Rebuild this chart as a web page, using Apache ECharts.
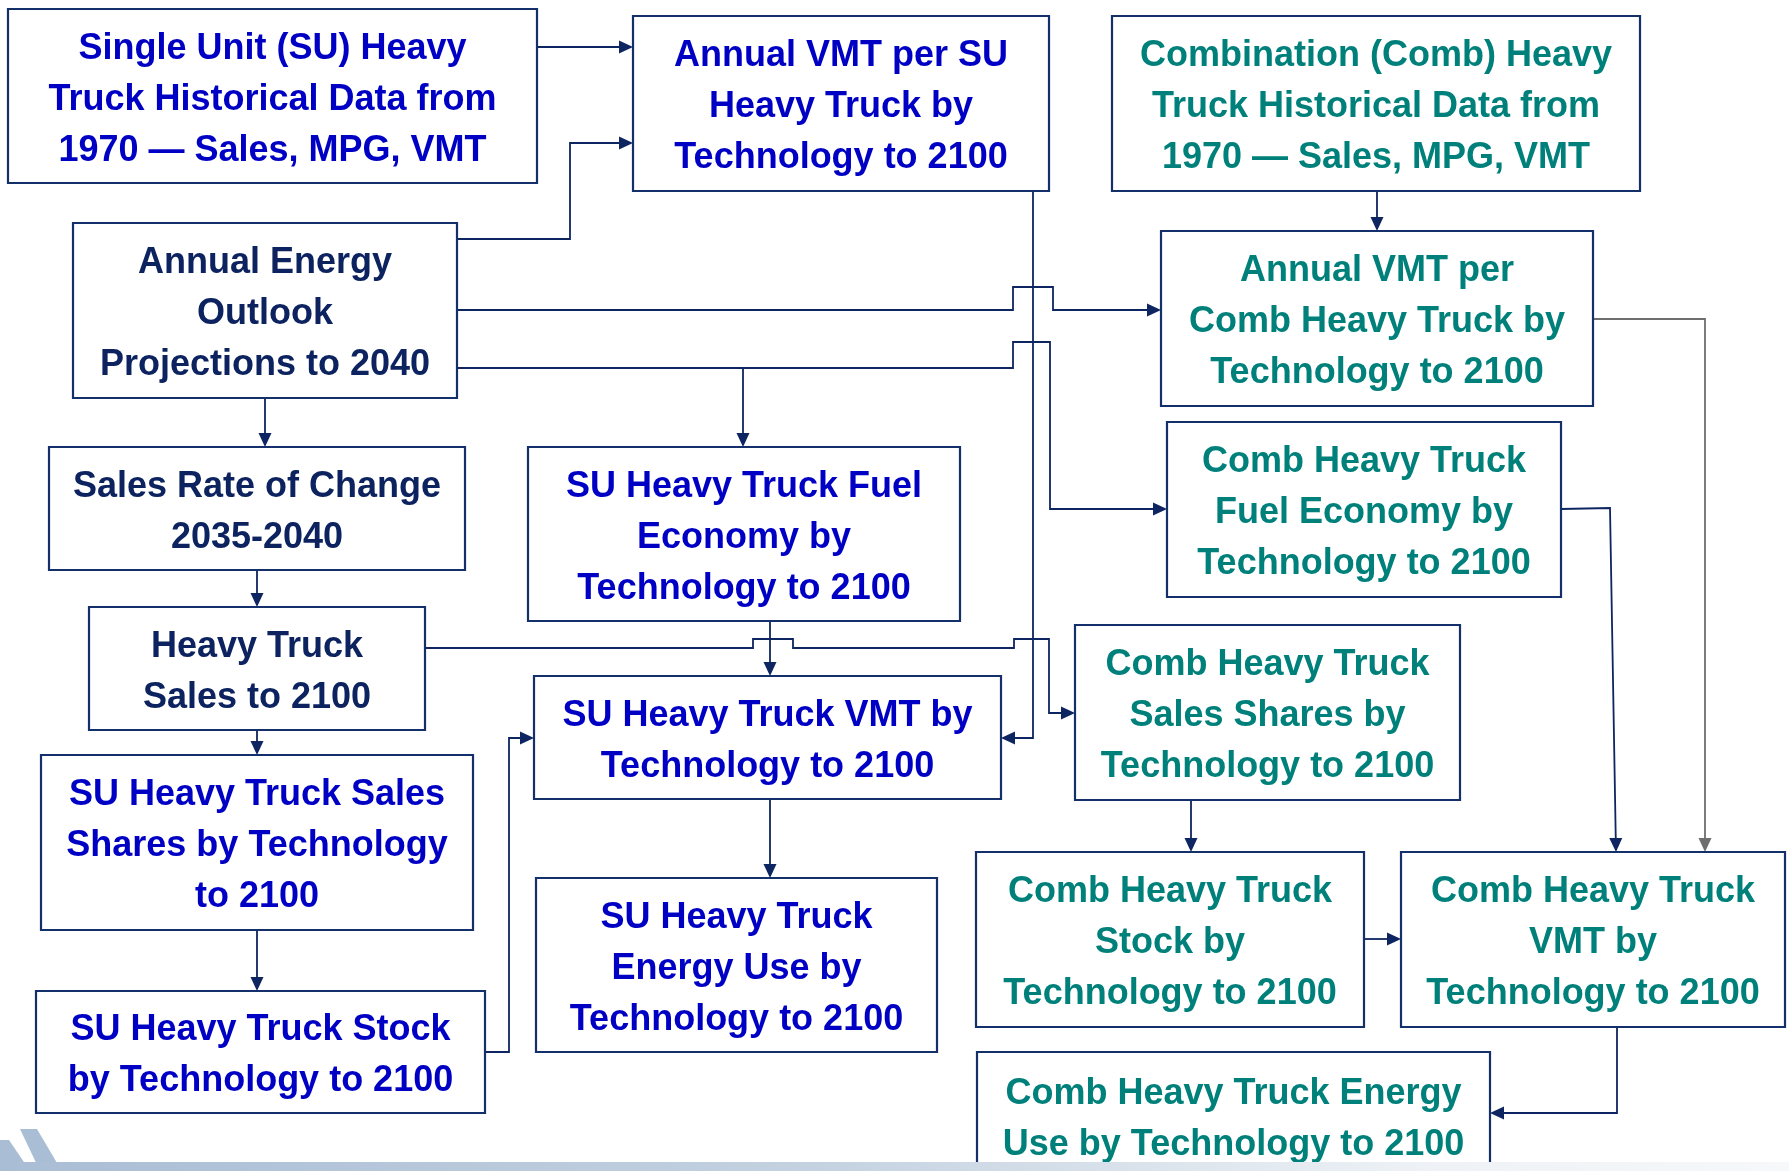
<!DOCTYPE html>
<html lang="en">
<head>
    <meta charset="UTF-8">
    <title>Heavy Truck Model Flow</title>
    <script src="https://cdn.jsdelivr.net/npm/echarts@6/dist/echarts.min.js"></script>
    <style>
        html, body { margin: 0; padding: 0; background: #fff; }
        #chart { width: 1789px; height: 1171px; }
    </style>
</head>
<body>
<div id="chart"></div>
<script>
    // box texts and which family they belong to
    const boxText = [
        'Single Unit (SU) Heavy\nTruck Historical Data from\n1970 \u2014 Sales, MPG, VMT',
        'Annual VMT per SU\nHeavy Truck by\nTechnology to 2100',
        'Combination (Comb) Heavy\nTruck Historical Data from\n1970 \u2014 Sales, MPG, VMT',
        'Annual VMT per\nComb Heavy Truck by\nTechnology to 2100',
        'Annual Energy\nOutlook\nProjections to 2040',
        'Sales Rate of Change\n2035-2040',
        'Heavy Truck\nSales to 2100',
        'SU Heavy Truck Sales\nShares by Technology\nto 2100',
        'SU Heavy Truck Stock\nby Technology to 2100',
        'SU Heavy Truck Fuel\nEconomy by\nTechnology to 2100',
        'SU Heavy Truck VMT by\nTechnology to 2100',
        'SU Heavy Truck\nEnergy Use by\nTechnology to 2100',
        'Comb Heavy Truck\nFuel Economy by\nTechnology to 2100',
        'Comb Heavy Truck\nSales Shares by\nTechnology to 2100',
        'Comb Heavy Truck\nStock by\nTechnology to 2100',
        'Comb Heavy Truck\nVMT by\nTechnology to 2100',
        'Comb Heavy Truck Energy\nUse by Technology to 2100'
    ];
    const boxGroup = ['su', 'su', 'comb', 'comb', 'aeo', 'aeo', 'aeo', 'su', 'su',
        'su', 'su', 'su', 'comb', 'comb', 'comb', 'comb', 'comb'];

    // arrows: [from, to]
    const links = [
        [0, 1], [4, 1], [4, 3], [4, 12], [4, 9], [1, 10], [4, 5], [5, 6], [6, 7],
        [7, 8], [6, 13], [9, 10], [8, 10], [10, 11], [2, 3], [3, 15], [12, 15],
        [13, 14], [14, 15], [15, 16]
    ];

    // layout (pixel space of the slide)
    const boxRect = [
        [8, 9, 537, 183], [633, 16, 1049, 191], [1112, 16, 1640, 191], [1161, 231, 1593, 406],
        [73, 223, 457, 398], [49, 447, 465, 570], [89, 607, 425, 730], [41, 755, 473, 930],
        [36, 991, 485, 1113], [528, 447, 960, 621], [534, 676, 1001, 799], [536, 878, 937, 1052],
        [1167, 422, 1561, 597], [1075, 625, 1460, 800], [976, 852, 1364, 1027],
        [1401, 852, 1785, 1027], [977, 1052, 1490, 1180]
    ];
    const routes = [
        [[537, 47], [633, 47]],
        [[457, 239], [570, 239], [570, 143], [633, 143]],
        [[457, 310], [1013, 310], [1013, 287], [1053, 287], [1053, 310], [1161, 310]],
        [[457, 368], [1013, 368], [1013, 342], [1050, 342], [1050, 509], [1167, 509]],
        [[743, 368], [743, 447]],
        [[1033, 191], [1033, 738], [1001, 738]],
        [[265, 398], [265, 447]],
        [[257, 570], [257, 607]],
        [[257, 730], [257, 755]],
        [[257, 930], [257, 991]],
        [[425, 648], [753, 648], [753, 639], [793, 639], [793, 648], [1014, 648], [1014, 639],
            [1049, 639], [1049, 713], [1075, 713]],
        [[770, 621], [770, 676]],
        [[485, 1052], [509, 1052], [509, 738], [534, 738]],
        [[770, 799], [770, 878]],
        [[1377, 191], [1377, 231]],
        [[1593, 319], [1705, 319], [1705, 852]],
        [[1561, 509], [1610, 508], [1616, 852]],
        [[1191, 800], [1191, 852]],
        [[1364, 939], [1401, 939]],
        [[1617, 1027], [1617, 1113], [1490, 1113]]
    ];

    const textColor = { su: '#0000c4', aeo: '#0c2360', comb: '#00807a' };
    const lineColor = '#0d2560';
    const fontFamily = "'Liberation Sans', Arial, sans-serif";

    let myChart = echarts.init(document.getElementById('chart'));

    let option = {
        animation: false,
        grid: { left: 0, right: 0, top: 0, bottom: 0 },
        xAxis: { type: 'value', min: 0, max: 1789, show: false },
        yAxis: { type: 'value', min: 0, max: 1171, inverse: true, show: false },
        graphic: [
            {
                type: 'polygon', z: 100, silent: true,
                shape: { points: [[0, 1140], [9, 1140], [30, 1171], [0, 1171]] },
                style: { fill: '#a9bdd5' }
            },
            {
                type: 'polygon', z: 100, silent: true,
                shape: { points: [[20, 1129], [37, 1129], [57, 1163], [47, 1171], [40, 1171]] },
                style: { fill: '#a9bdd5' }
            },
            {
                type: 'rect', z: 100, silent: true,
                shape: { x: 0, y: 1162, width: 1789, height: 9 },
                style: {
                    fill: new echarts.graphic.LinearGradient(0, 0, 1, 0, [
                        { offset: 0, color: '#a9bdd5' },
                        { offset: 0.45, color: '#c3d1e0' },
                        { offset: 0.8, color: '#eef2f6' },
                        { offset: 1, color: '#f6f8fa' }
                    ])
                }
            }
        ],
        series: [
            {
                // connectors
                type: 'custom',
                silent: true,
                data: links.map((l, i) => [i, l[0], l[1]]),
                renderItem: function (params, api) {
                    const i = api.value(0);
                    const pts = routes[i].map(p => api.coord(p));
                    const n = pts.length;
                    const end = pts[n - 1], prev = pts[n - 2];
                    const dx = end[0] - prev[0], dy = end[1] - prev[1];
                    const len = Math.sqrt(dx * dx + dy * dy);
                    const ux = dx / len, uy = dy / len;
                    const aLen = 14, aHalf = 6.5;
                    const base = [end[0] - ux * aLen, end[1] - uy * aLen];
                    const line = pts.slice(0, n - 1).concat([base]);
                    const col = i === 15 ? '#6e6e6e' : lineColor;
                    return {
                        type: 'group',
                        children: [
                            {
                                type: 'polyline',
                                shape: { points: line },
                                style: { stroke: col, lineWidth: 1.8, fill: null }
                            },
                            {
                                type: 'polygon',
                                shape: {
                                    points: [end,
                                        [base[0] - uy * aHalf, base[1] + ux * aHalf],
                                        [base[0] + uy * aHalf, base[1] - ux * aHalf]]
                                },
                                style: { fill: col }
                            }
                        ]
                    };
                }
            },
            {
                // boxes
                type: 'custom',
                silent: true,
                data: boxText.map((t, i) => [i]),
                renderItem: function (params, api) {
                    const i = api.value(0);
                    const r = boxRect[i];
                    const p0 = api.coord([r[0], r[1]]);
                    const p1 = api.coord([r[2], r[3]]);
                    const cx = (p0[0] + p1[0]) / 2;
                    const cy = (p0[1] + p1[1]) / 2 + 4;
                    return {
                        type: 'group',
                        children: [
                            {
                                type: 'rect',
                                shape: { x: p0[0], y: p0[1], width: p1[0] - p0[0], height: p1[1] - p0[1] },
                                style: { fill: '#ffffff', stroke: '#14306a', lineWidth: 2.2 }
                            },
                            {
                                type: 'text',
                                style: {
                                    text: boxText[i],
                                    x: cx,
                                    y: cy,
                                    fill: textColor[boxGroup[i]],
                                    fontSize: 36,
                                    fontWeight: 'bold',
                                    fontFamily: fontFamily,
                                    lineHeight: 51,
                                    align: 'center',
                                    verticalAlign: 'middle'
                                }
                            }
                        ]
                    };
                }
            }
        ]
    };
    myChart.setOption(option);
</script>
</body>
</html>
